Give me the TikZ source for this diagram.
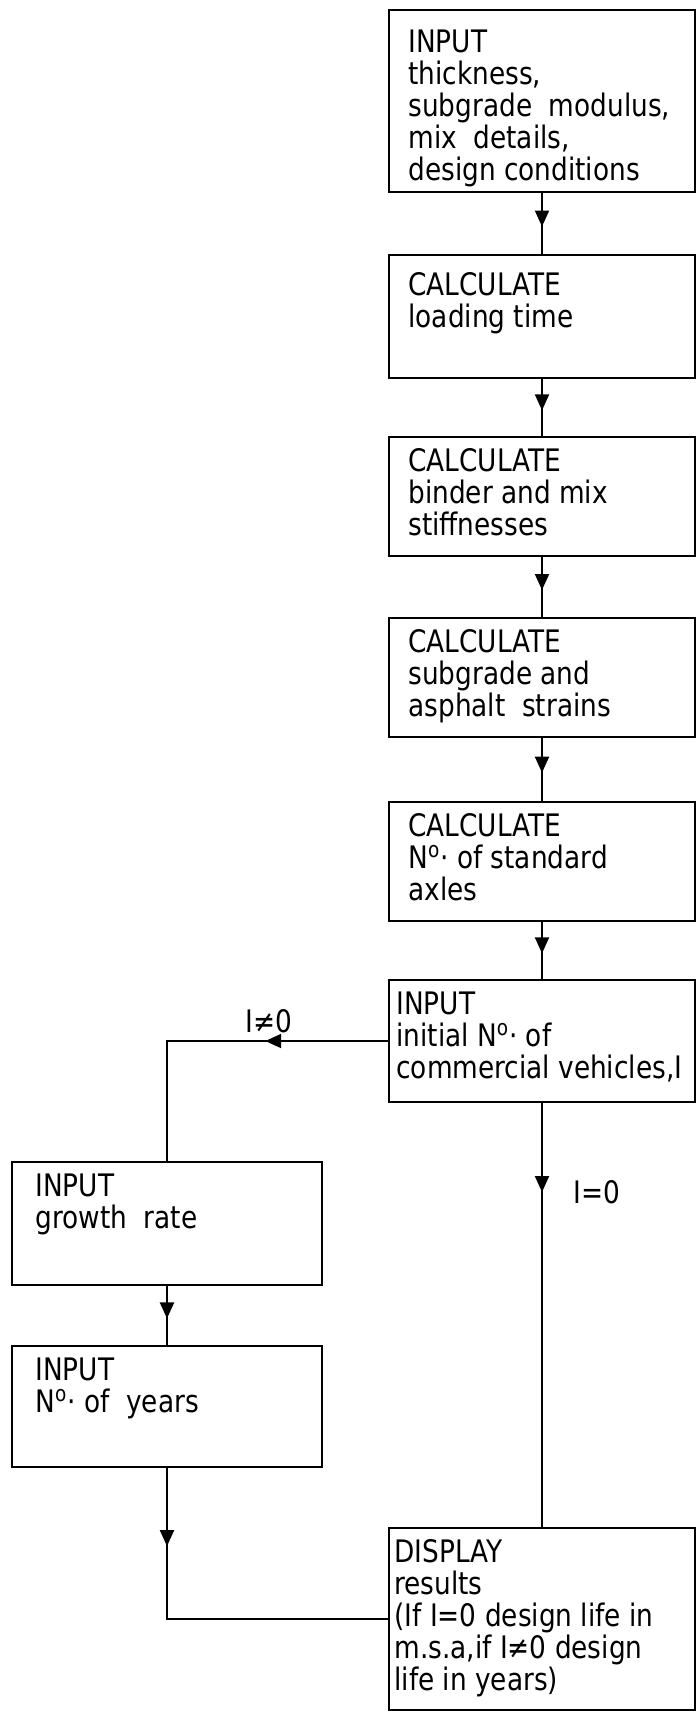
\documentclass[tikz,border=0pt]{standalone}
\usepackage{fontspec}
\usetikzlibrary{arrows.meta, decorations.markings}
\newfontfamily\flowfamily[FakeStretch=0.85]{DejaVu Sans}
\newcommand{\flowfont}{\flowfamily\fontsize{15.5pt}{16pt}\selectfont}
\newcommand{\Nsign}{N\textsuperscript{o}·}

\begin{document}
\begin{tikzpicture}[
        x=0.5pt, y=-0.5pt,
        box/.style={draw, line width=1pt, minimum width=153pt, minimum height=#1, inner sep=0pt},
        box/.default=59.5pt,
        txt/.style={anchor=north west, align=left, font=\flowfont, inner xsep=10pt, inner ysep=6pt},
        flow/.style={line width=1pt, postaction={decorate},
        decoration={markings, mark=at position #1 with {\arrow{Triangle[width=7pt, length=8pt]}}}},
        flow/.default=0.55,
        lbl/.style={font=\flowfont}
      ]
      \useasboundingbox (0,0) rectangle (700,1714);

      % Main column
      \node[box=91pt, label={[txt, inner ysep=10pt]north west:{INPUT\\thickness,\\subgrade\ \ modulus,\\mix\ \ details,\\design conditions}}] (inthick) at (542,101) {};
      \node[box=61.5pt, label={[txt, inner ysep=9pt]north west:{CALCULATE\\loading time}}] (calctime) at (542,316.5) {};
      \node[box, label={[txt]north west:{CALCULATE\\binder and mix\\stiffnesses}}] (calcstiff) at (542,496.5) {};
      \node[box, label={[txt]north west:{CALCULATE\\subgrade and\\asphalt\ \ strains}}] (calcstrain) at (542,677.5) {};
      \node[box, label={[txt]north west:{CALCULATE\\\Nsign\ of standard\\axles}}] (calcaxles) at (542,861.5) {};
      \node[box=61pt, label={[txt, inner xsep=4pt]north west:{INPUT\\initial \Nsign\ of\\commercial vehicles,I}}] (invehicles) at (542,1041) {};

      % Growth branch
      \node[box=61.5pt, minimum width=155pt, label={[txt, inner xsep=12pt]north west:{INPUT\\growth\ \ rate}}] (ingrowth) at (167,1223.5) {};
      \node[box=60.5pt, minimum width=155pt, label={[txt, inner xsep=12pt]north west:{INPUT\\\Nsign\ of\ \ years}}] (inyears) at (167,1406.5) {};

      % Output
      \node[box=91pt, label={[txt, inner xsep=3pt]north west:{DISPLAY\\results\\(If I=0 design life in\\m.s.a,if I≠0 design\\life in years)}}] (display) at (542,1619) {};

      % Connectors
      \draw[flow] (inthick) -- (calctime);
      \draw[flow] (calctime) -- (calcstiff);
      \draw[flow] (calcstiff) -- (calcstrain);
      \draw[flow] (calcstrain) -- (calcaxles);
      \draw[flow] (calcaxles) -- (invehicles);
      \draw[flow=0.36] (invehicles.west) -| node[lbl, above, pos=0.27] {I≠0} (ingrowth.north);
      \draw[flow=0.21] (invehicles) -- node[lbl, right=12pt, pos=0.21] {I=0} (display);
      \draw[flow] (ingrowth) -- (inyears);
      \draw[flow=0.21] (inyears.south) |- (display.west);
    \end{tikzpicture}
\end{document}
